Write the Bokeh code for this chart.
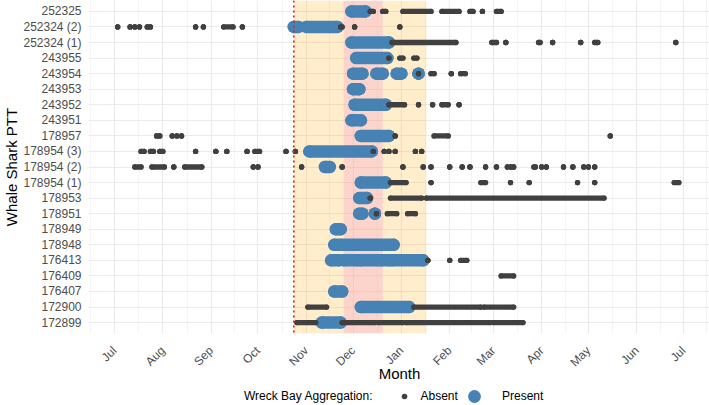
import pandas as pd
from bokeh.plotting import figure
from bokeh.layouts import column
from bokeh.models import (ColumnDataSource, FactorRange, Range1d, FixedTicker,
                          DatetimeTickFormatter, BoxAnnotation, Span, Legend, LegendItem)
from bokeh.embed import file_html
from bokeh.resources import INLINE

# Tag order, top to bottom
ptt_order = [
    "252325", "252324 (2)", "252324 (1)", "243955", "243954", "243953",
    "243952", "243951", "178957", "178954 (3)", "178954 (2)", "178954 (1)",
    "178953", "178951", "178949", "178948", "176413", "176409", "176407",
    "172900", "172899",
]

# Daily positions while the shark was at the Wreck Bay aggregation: (tag, first day, last day)
present_runs = [
    ("252325", "2018-11-30", "2018-12-09"),
    ("252324 (2)", "2018-10-24", "2018-10-27"),
    ("252324 (2)", "2018-11-01", "2018-11-21"),
    ("252324 (1)", "2018-11-30", "2018-12-24"),
    ("243955", "2018-12-03", "2018-12-23"),
    ("243954", "2018-12-01", "2018-12-07"),
    ("243954", "2018-12-16", "2018-12-20"),
    ("243954", "2018-12-29", "2019-01-01"),
    ("243954", "2019-01-12", "2019-01-12"),
    ("243953", "2018-12-01", "2018-12-05"),
    ("243952", "2018-12-02", "2018-12-22"),
    ("243951", "2018-11-30", "2018-12-06"),
    ("178957", "2018-12-06", "2018-12-24"),
    ("178954 (3)", "2018-11-03", "2018-12-13"),
    ("178954 (2)", "2018-11-13", "2018-11-16"),
    ("178954 (1)", "2018-12-06", "2018-12-22"),
    ("178953", "2018-12-05", "2018-12-10"),
    ("178951", "2018-12-05", "2018-12-07"),
    ("178951", "2018-12-15", "2018-12-15"),
    ("178949", "2018-11-20", "2018-11-23"),
    ("178948", "2018-11-19", "2018-12-27"),
    ("176413", "2018-11-17", "2018-11-22"),
    ("176413", "2018-11-25", "2018-12-04"),
    ("176413", "2018-12-06", "2018-12-17"),
    ("176413", "2018-12-19", "2018-12-24"),
    ("176413", "2018-12-26", "2019-01-15"),
    ("176407", "2018-11-19", "2018-11-24"),
    ("172900", "2018-12-06", "2019-01-06"),
    ("172899", "2018-11-11", "2018-11-23"),
]

# Daily positions away from the aggregation: (tag, first day, last day)
absent_runs = [
    ("252325", "2018-12-12", "2018-12-14"),
    ("252325", "2018-12-20", "2018-12-22"),
    ("252325", "2019-01-02", "2019-01-20"),
    ("252325", "2019-01-27", "2019-02-07"),
    ("252325", "2019-02-14", "2019-02-16"),
    ("252325", "2019-02-22", "2019-02-22"),
    ("252325", "2019-03-03", "2019-03-06"),
    ("252324 (2)", "2018-07-03", "2018-07-03"),
    ("252324 (2)", "2018-07-11", "2018-07-11"),
    ("252324 (2)", "2018-07-14", "2018-07-14"),
    ("252324 (2)", "2018-07-17", "2018-07-17"),
    ("252324 (2)", "2018-07-22", "2018-07-22"),
    ("252324 (2)", "2018-07-24", "2018-07-24"),
    ("252324 (2)", "2018-08-22", "2018-08-22"),
    ("252324 (2)", "2018-08-27", "2018-08-27"),
    ("252324 (2)", "2018-09-09", "2018-09-15"),
    ("252324 (2)", "2018-09-21", "2018-09-21"),
    ("252324 (2)", "2018-11-23", "2018-11-24"),
    ("252324 (2)", "2018-12-02", "2018-12-02"),
    ("252324 (2)", "2018-12-31", "2018-12-31"),
    ("252324 (1)", "2018-12-26", "2019-02-05"),
    ("252324 (1)", "2019-02-28", "2019-03-03"),
    ("252324 (1)", "2019-03-09", "2019-03-09"),
    ("252324 (1)", "2019-03-30", "2019-03-31"),
    ("252324 (1)", "2019-04-08", "2019-04-08"),
    ("252324 (1)", "2019-04-26", "2019-04-26"),
    ("252324 (1)", "2019-05-05", "2019-05-07"),
    ("252324 (1)", "2019-06-26", "2019-06-26"),
    ("243955", "2018-12-24", "2018-12-24"),
    ("243955", "2018-12-31", "2019-01-02"),
    ("243955", "2019-01-09", "2019-01-11"),
    ("243954", "2019-01-12", "2019-01-12"),
    ("243954", "2019-01-20", "2019-01-22"),
    ("243954", "2019-02-02", "2019-02-02"),
    ("243954", "2019-02-08", "2019-02-11"),
    ("243952", "2018-12-24", "2019-01-03"),
    ("243952", "2019-01-12", "2019-01-12"),
    ("243952", "2019-01-21", "2019-01-21"),
    ("243952", "2019-01-27", "2019-01-31"),
    ("243952", "2019-02-07", "2019-02-07"),
    ("178957", "2018-07-28", "2018-07-28"),
    ("178957", "2018-07-30", "2018-07-30"),
    ("178957", "2018-08-07", "2018-08-07"),
    ("178957", "2018-08-10", "2018-08-10"),
    ("178957", "2018-08-13", "2018-08-13"),
    ("178957", "2018-12-28", "2018-12-28"),
    ("178957", "2019-01-22", "2019-01-31"),
    ("178957", "2019-05-15", "2019-05-15"),
    ("178954 (3)", "2018-07-18", "2018-07-20"),
    ("178954 (3)", "2018-07-24", "2018-07-26"),
    ("178954 (3)", "2018-07-30", "2018-08-01"),
    ("178954 (3)", "2018-08-22", "2018-08-22"),
    ("178954 (3)", "2018-09-04", "2018-09-04"),
    ("178954 (3)", "2018-09-11", "2018-09-11"),
    ("178954 (3)", "2018-09-24", "2018-09-24"),
    ("178954 (3)", "2018-09-29", "2018-10-02"),
    ("178954 (3)", "2018-10-19", "2018-10-19"),
    ("178954 (3)", "2018-10-25", "2018-10-25"),
    ("178954 (3)", "2018-12-14", "2018-12-14"),
    ("178954 (3)", "2018-12-21", "2018-12-21"),
    ("178954 (3)", "2018-12-24", "2018-12-24"),
    ("178954 (3)", "2018-12-28", "2018-12-28"),
    ("178954 (3)", "2019-01-10", "2019-01-10"),
    ("178954 (3)", "2019-01-14", "2019-01-14"),
    ("178954 (2)", "2018-07-14", "2018-07-18"),
    ("178954 (2)", "2018-07-25", "2018-08-02"),
    ("178954 (2)", "2018-08-08", "2018-08-08"),
    ("178954 (2)", "2018-08-15", "2018-08-26"),
    ("178954 (2)", "2018-09-28", "2018-09-28"),
    ("178954 (2)", "2018-10-01", "2018-10-01"),
    ("178954 (2)", "2018-10-29", "2018-10-29"),
    ("178954 (2)", "2018-11-24", "2018-11-24"),
    ("178954 (2)", "2019-01-02", "2019-01-02"),
    ("178954 (2)", "2019-01-15", "2019-01-15"),
    ("178954 (2)", "2019-01-20", "2019-01-20"),
    ("178954 (2)", "2019-02-01", "2019-02-01"),
    ("178954 (2)", "2019-02-09", "2019-02-09"),
    ("178954 (2)", "2019-02-14", "2019-02-14"),
    ("178954 (2)", "2019-02-24", "2019-02-24"),
    ("178954 (2)", "2019-03-03", "2019-03-03"),
    ("178954 (2)", "2019-03-10", "2019-03-10"),
    ("178954 (2)", "2019-03-12", "2019-03-12"),
    ("178954 (2)", "2019-03-14", "2019-03-14"),
    ("178954 (2)", "2019-03-27", "2019-03-28"),
    ("178954 (2)", "2019-04-01", "2019-04-01"),
    ("178954 (2)", "2019-04-04", "2019-04-04"),
    ("178954 (2)", "2019-04-15", "2019-04-15"),
    ("178954 (2)", "2019-04-21", "2019-04-21"),
    ("178954 (2)", "2019-04-28", "2019-04-28"),
    ("178954 (2)", "2019-05-01", "2019-05-01"),
    ("178954 (2)", "2019-05-05", "2019-05-05"),
    ("178954 (1)", "2018-12-25", "2019-01-04"),
    ("178954 (1)", "2019-01-20", "2019-01-20"),
    ("178954 (1)", "2019-02-21", "2019-02-24"),
    ("178954 (1)", "2019-03-12", "2019-03-12"),
    ("178954 (1)", "2019-03-24", "2019-03-24"),
    ("178954 (1)", "2019-04-24", "2019-04-24"),
    ("178954 (1)", "2019-05-05", "2019-05-05"),
    ("178954 (1)", "2019-06-25", "2019-06-28"),
    ("178953", "2018-12-12", "2018-12-12"),
    ("178953", "2018-12-25", "2019-01-14"),
    ("178953", "2019-01-17", "2019-05-11"),
    ("178951", "2018-12-16", "2018-12-16"),
    ("178951", "2018-12-23", "2018-12-29"),
    ("178951", "2019-01-05", "2019-01-10"),
    ("176413", "2019-01-18", "2019-01-18"),
    ("176413", "2019-02-01", "2019-02-01"),
    ("176413", "2019-02-08", "2019-02-12"),
    ("176409", "2019-03-06", "2019-03-14"),
    ("172900", "2018-11-02", "2018-11-14"),
    ("172900", "2019-01-09", "2019-02-21"),
    ("172900", "2019-02-23", "2019-03-14"),
    ("172899", "2018-10-26", "2018-11-07"),
    ("172899", "2018-11-24", "2018-12-15"),
    ("172899", "2018-12-17", "2019-01-02"),
    ("172899", "2019-01-04", "2019-02-27"),
    ("172899", "2019-03-01", "2019-03-20"),
]

# Season axis and shaded periods
month_starts = pd.date_range("2018-07-01", "2019-07-01", freq="MS")
x_limits = ("2018-06-14 07:00", "2019-07-18 07:00")
aggregation_window = ("2018-10-24", "2019-01-17")
peak_window = ("2018-11-25", "2018-12-20")
first_present_day = "2018-10-24"

ABSENT_COLOR = "#404040"
PRESENT_COLOR = "#4682B4"
FONT = "Liberation Sans"
TICK_COLOR = "#4D4D4D"
GRID_COLOR = "#EBEBEB"
ABSENT_SIZE = 5.3
PRESENT_SIZE = 12.5


def ms(t):
    return pd.Timestamp(t).timestamp() * 1000.0


def runs_source(runs):
    return ColumnDataSource(dict(
        ptt=[r[0] for r in runs],
        start=pd.to_datetime([r[1] for r in runs]),
        end=pd.to_datetime([r[2] for r in runs]),
    ))


p = figure(
    frame_width=622, frame_height=333,
    x_axis_type="datetime",
    x_range=Range1d(pd.Timestamp(x_limits[0]), pd.Timestamp(x_limits[1])),
    y_range=FactorRange(factors=list(reversed(ptt_order)),
                        range_padding=0.2, range_padding_units="absolute"),
    output_backend="svg", toolbar_location=None,
    min_border_left=87, min_border_right=0, min_border_top=0, min_border_bottom=54,
    background_fill_color="white", border_fill_color="white",
)
p.outline_line_color = None

# month ticks with mid-month minor lines
major = [ms(t) for t in month_starts]
minor = [(a + b) / 2 for a, b in zip(major[:-1], major[1:])]
minor = [major[0] - (major[1] - major[0]) / 2] + minor + [major[-1] + (major[-1] - major[-2]) / 2]
ticker = FixedTicker(ticks=major, minor_ticks=minor)
p.xaxis.ticker = ticker
p.xgrid.ticker = ticker
p.xaxis.formatter = DatetimeTickFormatter(
    days="%b", months="%b", years="%b", hours="%b", minutes="%b",
    hourmin="%b", seconds="%b", milliseconds="%b", microseconds="%b")

p.xgrid.grid_line_color = GRID_COLOR
p.xgrid.grid_line_width = 1.1
p.xgrid.minor_grid_line_color = GRID_COLOR
p.xgrid.minor_grid_line_width = 0.55
p.ygrid.grid_line_color = GRID_COLOR
p.ygrid.grid_line_width = 1.1

for ax in (p.xaxis, p.yaxis):
    ax.axis_line_color = None
    ax.major_tick_line_color = None
    ax.minor_tick_line_color = None
    ax.major_tick_out = 0
    ax.major_tick_in = 0
    ax.minor_tick_out = 0
    ax.minor_tick_in = 0
    ax.major_label_text_font = FONT
    ax.major_label_text_font_size = "12px"
    ax.major_label_text_color = TICK_COLOR
    ax.axis_label_text_font = FONT
    ax.axis_label_text_font_size = "15px"
    ax.axis_label_text_font_style = "normal"
    ax.axis_label_text_color = "black"

p.xaxis.axis_label = "Month"
p.xaxis.major_label_orientation = 0.785398
p.xaxis.major_label_standoff = 15
p.xaxis.axis_label_standoff = -12
p.yaxis.axis_label = "Whale Shark PTT"
p.yaxis.major_label_standoff = 7
p.yaxis.axis_label_standoff = 0

# shaded aggregation season and its peak
p.add_layout(BoxAnnotation(left=ms(aggregation_window[0]), right=ms(aggregation_window[1]),
                           fill_color="#FFA500", fill_alpha=0.2, line_color=None, level="underlay"))
p.add_layout(BoxAnnotation(left=ms(peak_window[0]), right=ms(peak_window[1]),
                           fill_color="#F89ACB", fill_alpha=0.3, line_color=None, level="underlay"))

present_src = runs_source(present_runs)
absent_src = runs_source(absent_runs)

p.segment(x0="start", y0="ptt", x1="end", y1="ptt", source=present_src,
          line_color=PRESENT_COLOR, line_width=PRESENT_SIZE, line_cap="round")
p.scatter(x="start", y="ptt", source=present_src, size=PRESENT_SIZE,
          fill_color=PRESENT_COLOR, line_color=None)
p.scatter(x="end", y="ptt", source=present_src, size=PRESENT_SIZE,
          fill_color=PRESENT_COLOR, line_color=None)

p.segment(x0="start", y0="ptt", x1="end", y1="ptt", source=absent_src,
          line_color=ABSENT_COLOR, line_width=ABSENT_SIZE, line_cap="round")
p.scatter(x="start", y="ptt", source=absent_src, size=ABSENT_SIZE,
          fill_color=ABSENT_COLOR, line_color=None)
p.scatter(x="end", y="ptt", source=absent_src, size=ABSENT_SIZE,
          fill_color=ABSENT_COLOR, line_color=None)

p.add_layout(Span(location=ms(first_present_day), dimension="height",
                  line_color="#E0201B", line_width=1.6, line_dash="2 3"))

# legend strip under the chart; its keys reuse the same sources, drawn out of view
key_strip = figure(
    width=709, height=18,
    x_axis_type=None, y_axis_type=None,
    x_range=Range1d(0, 1), y_range=p.y_range,
    output_backend="svg", toolbar_location=None,
    min_border_left=0, min_border_right=0, min_border_top=0, min_border_bottom=0,
    background_fill_color="white", border_fill_color="white",
)
key_strip.outline_line_color = None

absent_key = key_strip.scatter(x="start", y="ptt", source=absent_src,
                               fill_color=ABSENT_COLOR, line_color=None)
present_key = key_strip.scatter(x="start", y="ptt", source=present_src,
                                fill_color=PRESENT_COLOR, line_color=None)
heading_stub = key_strip.segment(x0=[], y0=[], x1=[], y1=[], line_alpha=0)

legend_text = dict(
    orientation="horizontal", padding=0, margin=0,
    background_fill_alpha=0, border_line_color=None,
    label_text_font=FONT, label_text_font_size="12px", label_text_color="black",
)
# heading and the small "Absent" key (key diameter is 0.4 of the glyph box)
legend_absent = Legend(
    items=[
        LegendItem(label="Wreck Bay Aggregation:", renderers=[heading_stub]),
        LegendItem(label="Absent", renderers=[absent_key]),
    ],
    location=(132, 2), spacing=24,
    glyph_width=14, glyph_height=14, label_height=14, label_standoff=10,
    **legend_text,
)
# the larger "Present" key
legend_present = Legend(
    items=[LegendItem(label="Present", renderers=[present_key])],
    location=(370, -7), spacing=0,
    glyph_width=32, glyph_height=32, label_height=32, label_standoff=12,
    **legend_text,
)
key_strip.add_layout(legend_absent)
key_strip.add_layout(legend_present)

open("out.html", "w").write(file_html(column(p, key_strip), INLINE))
